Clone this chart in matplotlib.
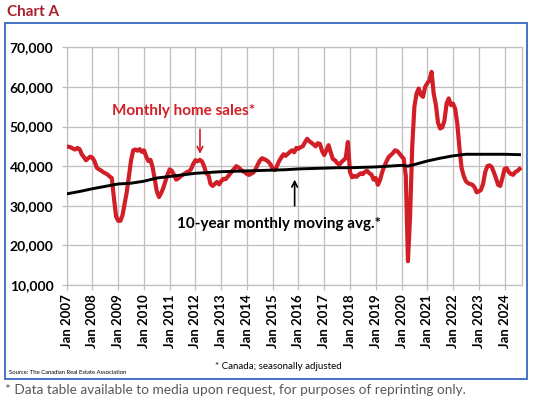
import matplotlib
matplotlib.use("Agg")
import matplotlib.pyplot as plt
from matplotlib.patches import Rectangle
from matplotlib.ticker import FuncFormatter

plt.rcParams['font.family'] = ['Lato', 'DejaVu Sans']

# Monthly home sales (Canada, SA), Jan 2007 .. Aug 2024, in thousands
sales_k = [
    # 2007
    44.9, 44.9, 44.7, 44.4, 44.2, 44.6, 44.3, 43.0, 42.3, 41.5, 42.0, 42.4,
    # 2008
    42.1, 41.2, 39.6, 39.2, 38.9, 38.5, 38.2, 37.9, 37.4, 37.0, 32.0, 27.3,
    # 2009
    26.2, 26.2, 27.6, 30.5, 33.5, 37.5, 41.5, 44.0, 44.2, 43.9, 44.3, 43.6,
    # 2010
    44.0, 42.5, 41.3, 41.6, 39.8, 36.8, 33.6, 32.2, 33.2, 34.5, 36.2, 37.9,
    # 2011
    39.2, 38.8, 37.8, 36.6, 36.9, 37.4, 37.8, 38.1, 38.5, 38.7, 39.3, 40.6,
    # 2012
    41.5, 41.2, 41.6, 41.2, 40.0, 38.2, 37.8, 35.5, 35.0, 35.5, 36.0, 35.4,
    # 2013
    36.2, 36.8, 36.7, 37.3, 38.0, 38.7, 39.3, 40.0, 39.7, 39.2, 38.7, 38.5,
    # 2014
    38.0, 37.8, 38.1, 38.4, 39.2, 40.4, 41.4, 42.0, 41.8, 41.5, 41.1, 40.4,
    # 2015
    39.3, 39.0, 40.1, 41.3, 42.2, 43.0, 42.6, 43.1, 43.6, 44.0, 43.5, 44.6,
    # 2016
    44.4, 44.8, 45.0, 46.0, 46.9, 46.3, 45.9, 45.5, 45.0, 45.8, 45.6, 43.8,
    # 2017
    42.8, 44.0, 45.3, 43.5, 41.8, 41.5, 40.8, 40.4, 41.0, 41.5, 42.0, 46.1,
    # 2018
    38.5, 37.2, 37.5, 37.3, 37.8, 38.2, 38.0, 38.6, 38.8, 38.2, 37.9, 36.6,
    # 2019
    37.0, 35.3, 36.5, 38.5, 40.0, 41.2, 42.3, 42.8, 43.3, 44.0, 43.8, 43.2,
    # 2020
    42.5, 41.9, 37.5, 16.0, 27.5, 45.0, 55.0, 58.3, 59.6, 58.0, 57.5, 60.0,
    # 2021
    60.9, 61.7, 63.8, 58.3, 55.5, 51.0, 49.5, 49.8, 51.5, 55.8, 57.1, 55.4,
    # 2022
    55.8, 54.5, 50.7, 44.5, 39.5, 37.5, 36.2, 35.7, 35.5, 35.3, 34.7, 33.4,
    # 2023
    33.6, 34.0, 35.5, 38.5, 40.0, 40.2, 39.8, 38.5, 37.0, 35.3, 35.0, 37.0,
    # 2024
    39.3, 39.5, 38.5, 38.0, 37.8, 38.5, 38.8, 39.3,
]

# 10-year monthly moving average, read at half-year points (months since Jan 2007)
avg_months = [0, 6, 12, 18, 24, 30, 36, 42, 48, 54, 60, 66, 72, 78, 84, 90, 96, 102,
              108, 114, 120, 126, 132, 138, 144, 150, 156, 159, 162, 168, 174, 180,
              186, 192, 198, 204, 211]
avg_k = [33.0, 33.6, 34.3, 34.9, 35.5, 35.7, 36.2, 37.0, 37.4, 37.8, 38.2, 38.4,
         38.6, 38.7, 38.8, 38.9, 39.0, 39.1, 39.3, 39.4, 39.5, 39.6, 39.6, 39.7,
         39.8, 40.0, 40.2, 40.0, 40.4, 41.3, 42.0, 42.6, 43.0, 43.0, 43.0, 43.0, 42.9]

tick_labels = ["Jan %d" % y for y in range(2007, 2025)]

sales = [v * 1000 for v in sales_k]
avg = [v * 1000 for v in avg_k]
months = list(range(len(sales)))

W, H = 537, 398
fig = plt.figure(figsize=(W / 100, H / 100), dpi=100)

# outer blue frame
fig.add_artist(Rectangle((5 / W, 1 - 379 / H), (527 - 5) / W, (379 - 23) / H,
                         transform=fig.transFigure, fill=False,
                         edgecolor="#4472C4", linewidth=1.4))

left, right, top, bottom = 66.7, 521.7, 47.3, 285.0
ax = fig.add_axes([left / W, 1 - bottom / H, (right - left) / W, (bottom - top) / H])

ax.plot(months, sales, color="#D21F27", linewidth=3.0, solid_joinstyle="round", zorder=3)
ax.plot(avg_months, avg, color="black", linewidth=2.1, zorder=4)

ax.set_xlim(0, 212)
ax.set_ylim(10000, 70000)
ax.set_yticks(range(10000, 70001, 10000))
ax.yaxis.set_major_formatter(FuncFormatter(lambda v, p: f"{int(v):,}"))
ax.set_xticks(range(0, 205, 12))
ax.set_xticklabels(tick_labels, rotation=90, fontweight="bold", fontsize=9.5)
for lab in ax.get_yticklabels():
    lab.set_fontweight("bold")
    lab.set_fontsize(10)

ax.grid(True, color="#BFBFBF", linewidth=0.9)
ax.set_axisbelow(True)
for s in ax.spines.values():
    s.set_color("#BFBFBF")
    s.set_linewidth(0.9)
ax.tick_params(axis="both", colors="#BFBFBF", length=3.5, width=0.9,
               labelcolor="black")
ax.tick_params(axis="y", pad=6)
ax.tick_params(axis="x", pad=3)

# annotations
ax.text(54.3, 54000, "Monthly home sales*", color="#D21F27", fontweight="bold",
        fontsize=11, ha="center", va="center")
ax.annotate("", xy=(62.1, 42400), xytext=(62.1, 50000),
            arrowprops=dict(arrowstyle="->", color="#D21F27", lw=1.2))
ax.text(99, 25400, "10-year monthly moving avg.*", color="black", fontweight="bold",
        fontsize=11, ha="center", va="center")
ax.annotate("", xy=(106.2, 37300), xytext=(106.2, 29300),
            arrowprops=dict(arrowstyle="->", color="black", lw=1.2))

fig.text(7 / W, 1 - 12 / H, "Chart A", color="#A8202A", fontweight="bold",
         fontsize=11, ha="left", va="center")
fig.text(278 / W, 1 - 366.5 / H, "* Canada; seasonally adjusted", fontsize=7,
         ha="center", va="center")
fig.text(9 / W, 1 - 372 / H, "Source: The Canadian Real Estate Association",
         fontsize=4.2, ha="left", va="center")
fig.text(5 / W, 1 - 390 / H,
         "* Data table available to media upon request, for purposes of reprinting only.",
         fontsize=9.8, color="#595959", ha="left", va="center")

fig.savefig("out.png", dpi=100)
